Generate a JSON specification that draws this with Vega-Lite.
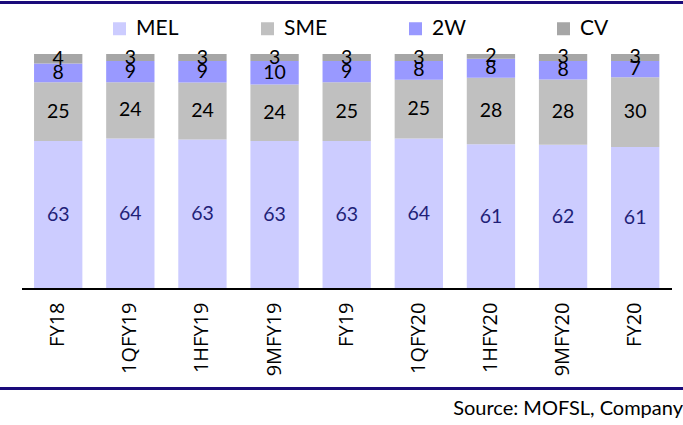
{
  "$schema": "https://vega.github.io/schema/vega-lite/v6.json",
  "autosize": "none",
  "width": 683,
  "height": 235,
  "padding": {"top": 54, "left": 0, "right": 0, "bottom": 136},
  "background": "#ffffff",
  "config": {
    "view": {"stroke": null},
    "legend": {"padding": 0}
  },
  "title": {
    "text": "Source: MOFSL, Company",
    "orient": "bottom",
    "anchor": "end",
    "frame": "group",
    "font": "Lato",
    "fontSize": 20,
    "fontWeight": "normal",
    "color": "#000000",
    "offset": 10
  },
  "data": {
    "values": [
      {"p": "FY18", "s": "MEL", "k": 1, "v": 63},
      {"p": "FY18", "s": "SME", "k": 2, "v": 25},
      {"p": "FY18", "s": "2W", "k": 3, "v": 8},
      {"p": "FY18", "s": "CV", "k": 4, "v": 4},
      {"p": "1QFY19", "s": "MEL", "k": 1, "v": 64},
      {"p": "1QFY19", "s": "SME", "k": 2, "v": 24},
      {"p": "1QFY19", "s": "2W", "k": 3, "v": 9},
      {"p": "1QFY19", "s": "CV", "k": 4, "v": 3},
      {"p": "1HFY19", "s": "MEL", "k": 1, "v": 63},
      {"p": "1HFY19", "s": "SME", "k": 2, "v": 24},
      {"p": "1HFY19", "s": "2W", "k": 3, "v": 9},
      {"p": "1HFY19", "s": "CV", "k": 4, "v": 3},
      {"p": "9MFY19", "s": "MEL", "k": 1, "v": 63},
      {"p": "9MFY19", "s": "SME", "k": 2, "v": 24},
      {"p": "9MFY19", "s": "2W", "k": 3, "v": 10},
      {"p": "9MFY19", "s": "CV", "k": 4, "v": 3},
      {"p": "FY19", "s": "MEL", "k": 1, "v": 63},
      {"p": "FY19", "s": "SME", "k": 2, "v": 25},
      {"p": "FY19", "s": "2W", "k": 3, "v": 9},
      {"p": "FY19", "s": "CV", "k": 4, "v": 3},
      {"p": "1QFY20", "s": "MEL", "k": 1, "v": 64},
      {"p": "1QFY20", "s": "SME", "k": 2, "v": 25},
      {"p": "1QFY20", "s": "2W", "k": 3, "v": 8},
      {"p": "1QFY20", "s": "CV", "k": 4, "v": 3},
      {"p": "1HFY20", "s": "MEL", "k": 1, "v": 61},
      {"p": "1HFY20", "s": "SME", "k": 2, "v": 28},
      {"p": "1HFY20", "s": "2W", "k": 3, "v": 8},
      {"p": "1HFY20", "s": "CV", "k": 4, "v": 2},
      {"p": "9MFY20", "s": "MEL", "k": 1, "v": 62},
      {"p": "9MFY20", "s": "SME", "k": 2, "v": 28},
      {"p": "9MFY20", "s": "2W", "k": 3, "v": 8},
      {"p": "9MFY20", "s": "CV", "k": 4, "v": 3},
      {"p": "FY20", "s": "MEL", "k": 1, "v": 61},
      {"p": "FY20", "s": "SME", "k": 2, "v": 30},
      {"p": "FY20", "s": "2W", "k": 3, "v": 7},
      {"p": "FY20", "s": "CV", "k": 4, "v": 3}
    ]
  },
  "encoding": {
    "x": {
      "field": "p",
      "type": "nominal",
      "scale": {
        "domain": ["FY18", "1QFY19", "1HFY19", "9MFY19", "FY19", "1QFY20", "1HFY20", "9MFY20", "FY20"],
        "paddingInner": 0.33,
        "paddingOuter": 0.4,
        "align": 0.59
      },
      "axis": {
        "title": null,
        "domain": false,
        "ticks": false,
        "labelAngle": -90,
        "labelFont": "Open Sans",
        "labelFontSize": 20,
        "labelColor": "#000000",
        "labelPadding": 13
      }
    }
  },
  "layer": [
    {
      "mark": {"type": "bar"},
      "encoding": {
        "y": {
          "field": "v",
          "type": "quantitative",
          "stack": "normalize",
          "scale": {"domain": [0, 1]},
          "axis": null
        },
        "color": {
          "field": "s",
          "type": "nominal",
          "scale": {
            "domain": ["MEL", "SME", "2W", "CV"],
            "range": ["#CCCCFF", "#C0C0C0", "#9999FF", "#A6A6A6"]
          },
          "legend": {
            "title": null,
            "orient": "none",
            "legendX": 109,
            "legendY": -36,
            "direction": "horizontal",
            "gridAlign": "all",
            "columnPadding": 77,
            "symbolType": "square",
            "symbolSize": 169,
            "symbolStrokeWidth": 0,
            "symbolOpacity": 1,
            "labelFont": "Lato",
            "labelFontSize": 21,
            "labelColor": "#000000",
            "labelOffset": 6
          }
        },
        "order": {"field": "k", "type": "quantitative"}
      }
    },
    {
      "mark": {"type": "text", "font": "Lato", "fontSize": 19.5, "baseline": "middle", "align": "center"},
      "encoding": {
        "y": {
          "field": "v",
          "type": "quantitative",
          "stack": "normalize",
          "bandPosition": 0.5
        },
        "detail": {"field": "s", "type": "nominal"},
        "order": {"field": "k", "type": "quantitative"},
        "text": {"field": "v", "type": "quantitative"},
        "color": {
          "condition": {"test": "datum.s === 'MEL'", "value": "#1F1F78"},
          "value": "#000000"
        }
      }
    },
    {
      "mark": {"type": "rule", "color": "#000000", "strokeWidth": 2},
      "encoding": {
        "x": {"datum": "FY18", "bandPosition": -0.24},
        "x2": {"datum": "FY20", "bandPosition": 1.25},
        "y": {"datum": 0}
      }
    },
    {
      "mark": {"type": "rule", "color": "#1A0A7A", "strokeWidth": 2},
      "encoding": {
        "x": null,
        "y": {"datum": 1.219}
      }
    },
    {
      "mark": {"type": "rule", "color": "#1A0A7A", "strokeWidth": 2},
      "encoding": {
        "x": null,
        "y": {"datum": -0.4234}
      }
    }
  ]
}
